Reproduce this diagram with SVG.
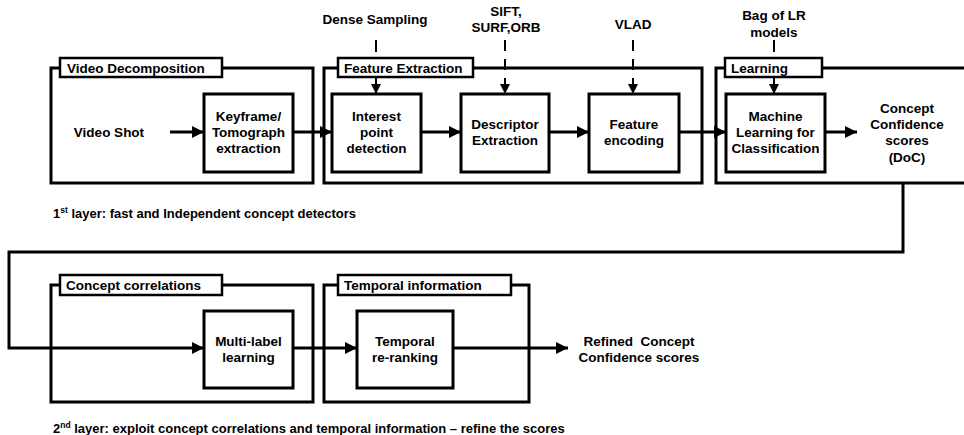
<svg xmlns="http://www.w3.org/2000/svg" width="964" height="435" viewBox="0 0 964 435">
<style>
text{font-family:"Liberation Sans",Arial,sans-serif;font-weight:bold;font-size:13.5px;fill:#000}
.c{text-anchor:middle}
.outer{fill:none;stroke:#000;stroke-width:3}
.lbl{fill:#fff;stroke:#000;stroke-width:2.5}
.box{fill:#fff;stroke:#000;stroke-width:3}
.ln{fill:none;stroke:#000;stroke-width:3}
.thin{fill:none;stroke:#000;stroke-width:2}
.dash{fill:none;stroke:#000;stroke-width:2;stroke-dasharray:11 8}
</style>
<defs>
<marker id="ah" markerWidth="12" markerHeight="12" refX="12" refY="6" orient="auto" markerUnits="userSpaceOnUse">
<path d="M0,0 L12,6 L0,12 Z" fill="#000"/>
</marker>
<marker id="sh" markerWidth="10" markerHeight="10" refX="10" refY="5" orient="auto" markerUnits="userSpaceOnUse">
<path d="M0,0 L10,5 L0,10 Z" fill="#000"/>
</marker>
</defs>
<rect width="964" height="435" fill="#fff"/>

<g id="video-decomposition">
<rect class="outer" x="51" y="68" width="262" height="115"/>
<rect class="lbl" x="60" y="58" width="162" height="19"/>
<text x="67" y="72.5">Video Decomposition</text>
</g>
<g id="feature-extraction">
<rect class="outer" x="324" y="68" width="378" height="115"/>
<rect class="lbl" x="338" y="58" width="135" height="19"/>
<text x="344" y="72.5">Feature Extraction</text>
</g>
<g id="learning">
<path class="outer" d="M970,68 H716 V183 H970"/>
<rect class="lbl" x="725" y="58" width="97" height="19"/>
<text x="731" y="72.5">Learning</text>
</g>
<g id="concept-correlations">
<rect class="outer" x="51" y="285" width="262" height="117"/>
<rect class="lbl" x="60" y="275" width="162" height="20"/>
<text x="66" y="290">Concept correlations</text>
</g>
<g id="temporal-information">
<rect class="outer" x="324" y="285" width="205" height="117"/>
<rect class="lbl" x="338" y="275" width="173" height="20"/>
<text x="344" y="290">Temporal information</text>
</g>

<g id="connectors">
<line class="ln" x1="170" y1="132" x2="204" y2="132" marker-end="url(#ah)"/>
<line class="ln" x1="293" y1="132" x2="332" y2="132" marker-end="url(#ah)"/>
<line class="ln" x1="421" y1="132" x2="461" y2="132" marker-end="url(#ah)"/>
<line class="ln" x1="549" y1="132" x2="589" y2="132" marker-end="url(#ah)"/>
<line class="ln" x1="679" y1="132" x2="726" y2="132" marker-end="url(#ah)"/>
<line class="ln" x1="825" y1="132" x2="857" y2="132" marker-end="url(#ah)"/>
<line class="thin" x1="376" y1="40" x2="376" y2="52"/>
<line class="thin" x1="376" y1="78" x2="376" y2="94" marker-end="url(#sh)"/>
<line class="dash" x1="505" y1="40" x2="505" y2="94" marker-end="url(#sh)"/>
<line class="dash" x1="633" y1="40" x2="633" y2="94" marker-end="url(#sh)"/>
<line class="thin" x1="774" y1="40" x2="774" y2="52"/>
<line class="thin" x1="774" y1="78" x2="774" y2="94" marker-end="url(#sh)"/>
<path class="ln" d="M903,183 V252 H9 V348 H204" marker-end="url(#ah)"/>
<line class="ln" x1="293" y1="348" x2="357" y2="348" marker-end="url(#ah)"/>
<line class="ln" x1="453" y1="348" x2="568" y2="348" marker-end="url(#ah)"/>
</g>

<g id="video-shot"><text class="c" x="109" y="137">Video Shot</text></g>
<g id="keyframe">
<rect class="box" x="204" y="94" width="89" height="78"/>
<text class="c" x="248.5" y="121">Keyframe/</text>
<text class="c" x="248.5" y="137">Tomograph</text>
<text class="c" x="248.5" y="153">extraction</text>
</g>
<g id="interest-point">
<rect class="box" x="332" y="94" width="89" height="78"/>
<text class="c" x="376.5" y="121">Interest</text>
<text class="c" x="376.5" y="137">point</text>
<text class="c" x="376.5" y="153">detection</text>
</g>
<g id="descriptor">
<rect class="box" x="461" y="94" width="88" height="78"/>
<text class="c" x="505" y="129">Descriptor</text>
<text class="c" x="505" y="145">Extraction</text>
</g>
<g id="feature-encoding">
<rect class="box" x="589" y="94" width="90" height="78"/>
<text class="c" x="634" y="129">Feature</text>
<text class="c" x="634" y="145">encoding</text>
</g>
<g id="machine-learning">
<rect class="box" x="726" y="94" width="99" height="78"/>
<text class="c" x="775.5" y="121">Machine</text>
<text class="c" x="775.5" y="137">Learning for</text>
<text class="c" x="775.5" y="153">Classification</text>
</g>
<g id="concept-scores">
<text class="c" x="907" y="113">Concept</text>
<text class="c" x="907" y="129">Confidence</text>
<text class="c" x="907" y="145">scores</text>
<text class="c" x="907" y="162">(DoC)</text>
</g>
<g id="dense-sampling"><text class="c" x="375" y="24">Dense Sampling</text></g>
<g id="sift"><text class="c" x="506" y="16">SIFT,</text><text class="c" x="506" y="32">SURF,ORB</text></g>
<g id="vlad"><text class="c" x="633" y="29">VLAD</text></g>
<g id="bag-lr"><text class="c" x="774" y="20">Bag of LR</text><text class="c" x="774" y="37">models</text></g>

<g id="multi-label">
<rect class="box" x="204" y="311" width="89" height="77"/>
<text class="c" x="248.5" y="346">Multi-label</text>
<text class="c" x="248.5" y="362">learning</text>
</g>
<g id="temporal-reranking">
<rect class="box" x="357" y="311" width="96" height="77"/>
<text class="c" x="405" y="346">Temporal</text>
<text class="c" x="405" y="362">re-ranking</text>
</g>
<g id="refined-scores">
<text class="c" x="639" y="346" style="white-space:pre">Refined  Concept</text>
<text class="c" x="639" y="362">Confidence scores</text>
</g>

<text x="53" y="218" style="font-size:13px">1<tspan dy="-5" style="font-size:8.5px">st</tspan><tspan dy="5"> layer: fast and Independent concept detectors</tspan></text>
<text x="53" y="433" style="font-size:13px">2<tspan dy="-5" style="font-size:8.5px">nd</tspan><tspan dy="5"> layer: exploit concept correlations and temporal information – refine the scores</tspan></text>
</svg>
